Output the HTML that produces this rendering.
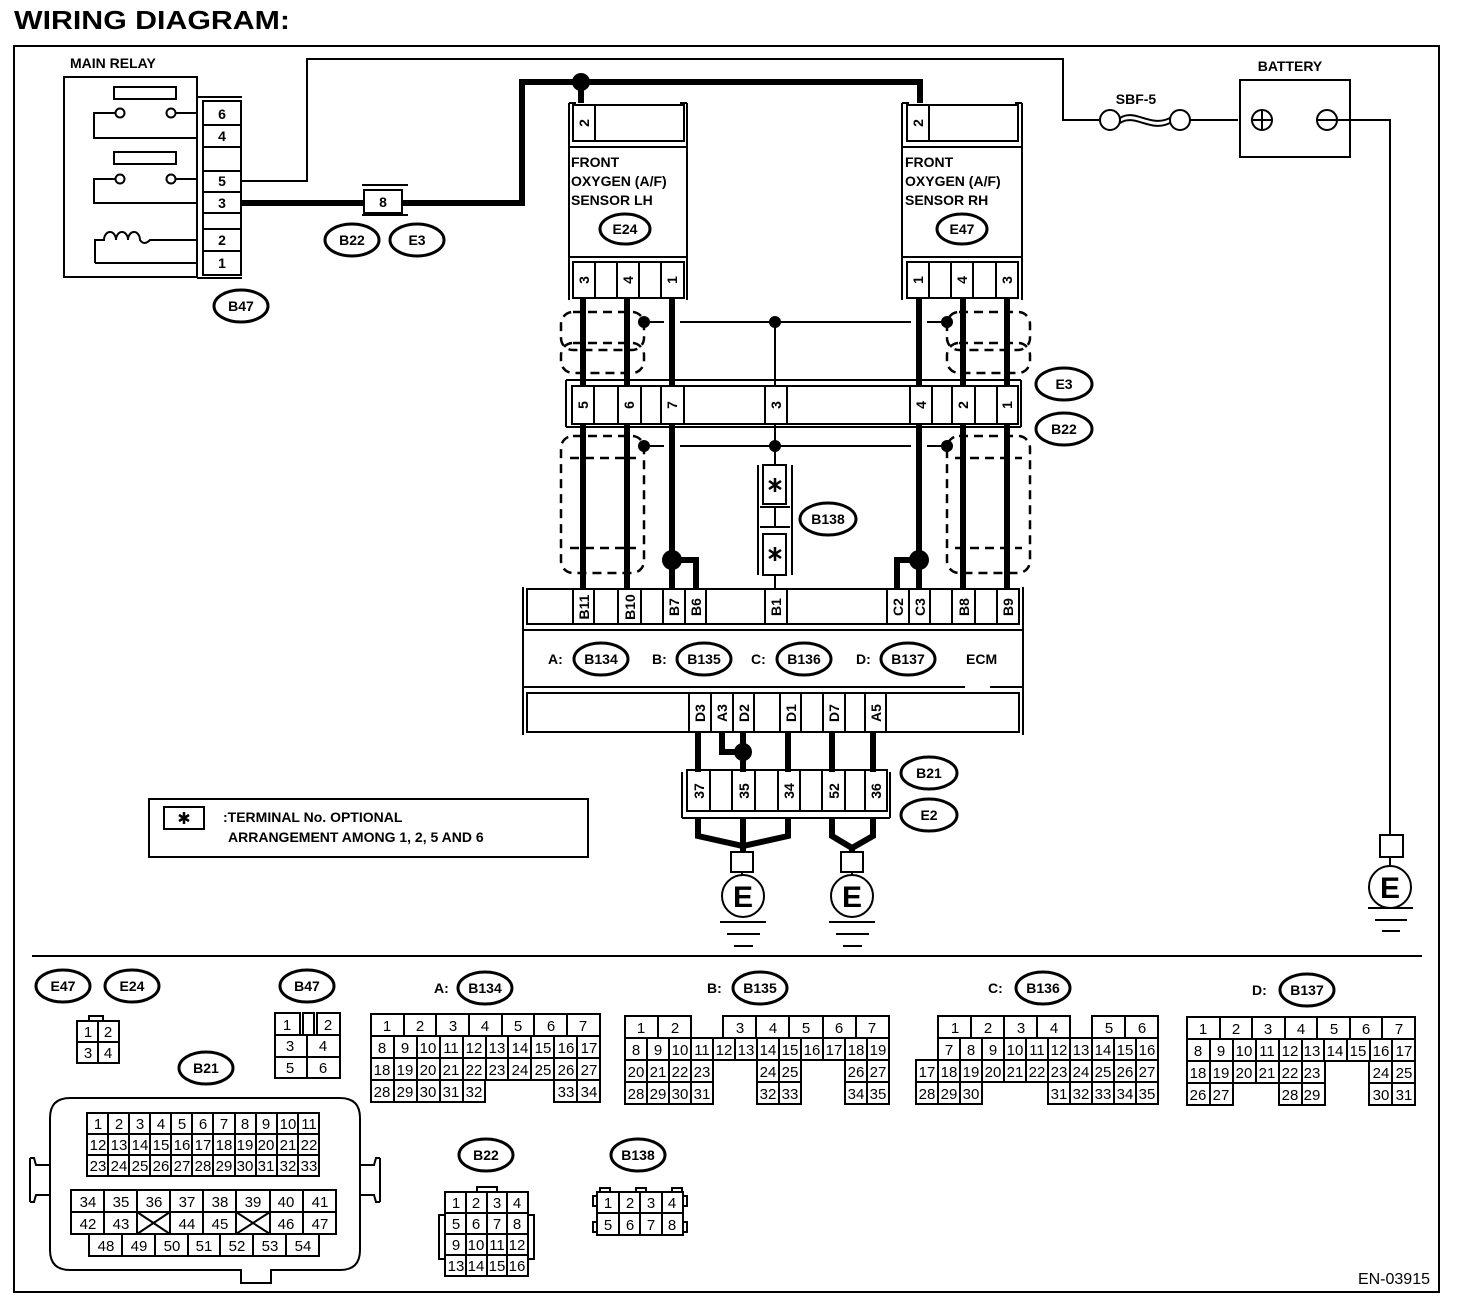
<!DOCTYPE html>
<html><head><meta charset="utf-8"><style>
html,body{margin:0;padding:0;background:#fff}
svg{display:block}
text{font-family:"Liberation Sans",Arial,sans-serif;fill:#000}
.b{font-weight:bold;font-size:14px}
.n{font-size:15px}
.p{font-weight:bold;font-size:14px}
.c{fill:none;stroke:#000;stroke-width:2}
.t{fill:none;stroke:#000;stroke-width:2}
.w{fill:none;stroke:#000;stroke-width:6}
.d{fill:none;stroke:#000;stroke-width:2.5;stroke-dasharray:9 6}
.o{fill:#fff;stroke:#000;stroke-width:3}
.s{fill:none;stroke:#000;stroke-width:2.5}
</style></head><body>
<svg width="1472" height="1308" viewBox="0 0 1472 1308" xmlns="http://www.w3.org/2000/svg">
<text x="14" y="29" font-size="26" font-weight="bold" textLength="276" lengthAdjust="spacingAndGlyphs">WIRING DIAGRAM:</text>
<rect x="14" y="46" width="1425" height="1246" class="t"/>

<!-- MAIN RELAY -->
<text x="70" y="68" class="b" font-size="13">MAIN RELAY</text>
<rect x="64" y="77" width="133" height="200" class="c" stroke-width="3"/>
<line x1="197" y1="97" x2="242" y2="97" class="t" stroke-width="3"/>
<line x1="197" y1="278" x2="242" y2="278" class="t" stroke-width="3"/>
<rect x="203" y="101" width="38" height="174" class="c" stroke-width="3"/>
<g class="t"><line x1="203" y1="125" x2="241" y2="125"/><line x1="203" y1="147" x2="241" y2="147"/><line x1="203" y1="171" x2="241" y2="171"/><line x1="203" y1="192" x2="241" y2="192"/><line x1="203" y1="213" x2="241" y2="213"/><line x1="203" y1="229" x2="241" y2="229"/><line x1="203" y1="251" x2="241" y2="251"/></g>
<g class="b" text-anchor="middle"><text x="222" y="119">6</text><text x="222" y="141">4</text><text x="222" y="186">5</text><text x="222" y="208">3</text><text x="222" y="245">2</text><text x="222" y="268">1</text></g>
<rect x="114" y="87" width="62" height="12" class="c" stroke-width="2.5"/>
<rect x="114" y="152" width="62" height="12" class="c" stroke-width="2.5"/>
<g class="t" stroke-width="2.5">
<path d="M116,113 H94 V138 H197"/><path d="M175,113 H197"/>
<circle cx="120" cy="113" r="4.5" fill="#fff"/><circle cx="171" cy="113" r="4.5" fill="#fff"/>
<path d="M116,179 H94 V203 H197"/><path d="M175,179 H197"/>
<circle cx="120" cy="179" r="4.5" fill="#fff"/><circle cx="171" cy="179" r="4.5" fill="#fff"/>
<path d="M95,263 V240 H104 a6,8 0 1 1 12,0 a6,8 0 1 1 12,0 a6,8 0 1 1 12,0 Q144,246 150,240 H197"/>
<path d="M95,263 H197"/>
</g>
<ellipse cx="241" cy="306" rx="27" ry="16" class="o"/><text x="241" y="311" class="b" text-anchor="middle">B47</text>

<path d="M241,181 H307 V59 H1063 V120 H1100" class="t" stroke-width="2.5"/>
<path d="M241,203 H364 M402,203 H522 V82 H920 V103" class="w"/>
<line x1="362" y1="185" x2="408" y2="185" class="t" stroke-width="3"/>
<line x1="362" y1="215" x2="408" y2="215" class="t" stroke-width="3"/>
<rect x="364" y="190" width="38" height="23" class="c" stroke-width="3"/>
<text x="383" y="207" class="b" text-anchor="middle">8</text>
<ellipse cx="352" cy="240" rx="27" ry="16" class="o"/><text x="352" y="245" class="b" text-anchor="middle">B22</text>
<ellipse cx="417" cy="240" rx="27" ry="16" class="o"/><text x="417" y="245" class="b" text-anchor="middle">E3</text>
<circle cx="581" cy="82" r="9"/><path d="M581,82 V103" class="w"/>

<!-- fuse / battery -->
<text x="1136" y="104" class="b" text-anchor="middle">SBF-5</text>
<circle cx="1110" cy="120" r="10" class="t" stroke-width="2.5" fill="#fff"/>
<circle cx="1180" cy="120" r="10" class="t" stroke-width="2.5" fill="#fff"/>
<path d="M1120,118 C1135,108 1150,128 1170,118" class="t" stroke-width="2.5"/>
<path d="M1120,123 C1135,113 1150,133 1170,123" class="t" stroke-width="1.5"/>
<path d="M1190,120 H1238" class="t" stroke-width="2.5"/>
<text x="1290" y="71" class="b" text-anchor="middle">BATTERY</text>
<rect x="1240" y="80" width="110" height="77" class="c" stroke-width="3"/>
<circle cx="1262" cy="120" r="10" class="t" stroke-width="2.5"/><path d="M1252,120 H1272 M1262,110 V130" class="t" stroke-width="2.5"/>
<circle cx="1327" cy="120" r="10" class="t" stroke-width="2.5"/><path d="M1317,120 H1337" class="t" stroke-width="2.5"/>
<path d="M1337,120 H1390 V835" class="t" stroke-width="2.5"/>
<rect x="1380" y="835" width="23" height="22" class="c" stroke-width="2.5"/>
<path d="M1390,857 V866" class="t" stroke-width="2.5"/>
<circle cx="1390" cy="887" r="21" class="t" stroke-width="2.5" fill="#fff"/>
<text x="1390" y="898" font-size="30" font-weight="bold" text-anchor="middle">E</text>
<g class="t" stroke-width="3"><line x1="1368" y1="908" x2="1413" y2="908"/><line x1="1375" y1="920" x2="1407" y2="920"/><line x1="1382" y1="931" x2="1400" y2="931"/></g>

<!-- SENSOR LH -->
<g class="t" stroke-width="3">
<line x1="569" y1="103" x2="569" y2="300"/><line x1="687" y1="103" x2="687" y2="300"/>
<line x1="569" y1="103" x2="576" y2="103"/><line x1="680" y1="103" x2="687" y2="103"/>
<line x1="569" y1="147" x2="687" y2="147"/><line x1="569" y1="257" x2="687" y2="257"/>
</g>
<rect x="573" y="105" width="111" height="36" class="c" stroke-width="3"/><line x1="595" y1="105" x2="595" y2="141" class="t" stroke-width="2"/>
<text transform="translate(584,123) rotate(-90)" class="p" text-anchor="middle" dominant-baseline="central">2</text>
<text x="571" y="167" class="b">FRONT</text><text x="571" y="186" class="b">OXYGEN (A/F)</text><text x="571" y="205" class="b">SENSOR LH</text>
<ellipse cx="625" cy="229" rx="25" ry="15" class="o"/><text x="625" y="234" class="b" text-anchor="middle">E24</text>
<rect x="573" y="262" width="111" height="36" class="c" stroke-width="3"/>
<g class="t"><line x1="595" y1="262" x2="595" y2="298"/><line x1="617" y1="262" x2="617" y2="298"/><line x1="639" y1="262" x2="639" y2="298"/><line x1="661" y1="262" x2="661" y2="298"/></g>
<g class="p" text-anchor="middle" dominant-baseline="central"><text transform="translate(584,280) rotate(-90)">3</text><text transform="translate(628,280) rotate(-90)">4</text><text transform="translate(672,280) rotate(-90)">1</text></g>

<!-- SENSOR RH -->
<g class="t" stroke-width="3">
<line x1="902" y1="103" x2="902" y2="300"/><line x1="1022" y1="103" x2="1022" y2="300"/>
<line x1="902" y1="103" x2="909" y2="103"/><line x1="1015" y1="103" x2="1022" y2="103"/>
<line x1="902" y1="147" x2="1022" y2="147"/><line x1="902" y1="257" x2="1022" y2="257"/>
</g>
<rect x="907" y="105" width="111" height="36" class="c" stroke-width="3"/><line x1="929" y1="105" x2="929" y2="141" class="t"/>
<text transform="translate(918,123) rotate(-90)" class="p" text-anchor="middle" dominant-baseline="central">2</text>
<text x="905" y="167" class="b">FRONT</text><text x="905" y="186" class="b">OXYGEN (A/F)</text><text x="905" y="205" class="b">SENSOR RH</text>
<ellipse cx="962" cy="229" rx="25" ry="15" class="o"/><text x="962" y="234" class="b" text-anchor="middle">E47</text>
<rect x="907" y="262" width="111" height="36" class="c" stroke-width="3"/>
<g class="t"><line x1="929" y1="262" x2="929" y2="298"/><line x1="951" y1="262" x2="951" y2="298"/><line x1="973" y1="262" x2="973" y2="298"/><line x1="996" y1="262" x2="996" y2="298"/></g>
<g class="p" text-anchor="middle" dominant-baseline="central"><text transform="translate(918,280) rotate(-90)">1</text><text transform="translate(962,280) rotate(-90)">4</text><text transform="translate(1007,280) rotate(-90)">3</text></g>

<g class="w"><line x1="583" y1="298" x2="583" y2="387"/><line x1="627" y1="298" x2="627" y2="387"/><line x1="672" y1="298" x2="672" y2="387"/>
<line x1="919" y1="298" x2="919" y2="387"/><line x1="963" y1="298" x2="963" y2="387"/><line x1="1007" y1="298" x2="1007" y2="387"/></g>
<rect x="561" y="312" width="83" height="38" rx="12" class="d"/>
<rect x="561" y="343" width="83" height="30" rx="12" class="d"/>
<rect x="947" y="312" width="83" height="38" rx="12" class="d"/>
<rect x="947" y="343" width="83" height="30" rx="12" class="d"/>
<g class="t" stroke-width="2"><path d="M644,322 H664 M680,322 H911 M927,322 H947"/><path d="M775,322 V387"/></g>
<circle cx="644" cy="322" r="6"/><circle cx="775" cy="322" r="6"/><circle cx="947" cy="322" r="6"/>

<g class="t" stroke-width="3"><line x1="566" y1="380" x2="1021" y2="380"/><line x1="566" y1="380" x2="566" y2="427"/><line x1="1021" y1="380" x2="1021" y2="427"/><line x1="566" y1="427" x2="1021" y2="427"/></g>
<rect x="572" y="386" width="446" height="38" class="c" stroke-width="3"/>
<g class="t"><line x1="594" y1="386" x2="594" y2="424"/><line x1="618" y1="386" x2="618" y2="424"/><line x1="641" y1="386" x2="641" y2="424"/><line x1="661" y1="386" x2="661" y2="424"/><line x1="684" y1="386" x2="684" y2="424"/><line x1="765" y1="386" x2="765" y2="424"/><line x1="787" y1="386" x2="787" y2="424"/><line x1="910" y1="386" x2="910" y2="424"/><line x1="932" y1="386" x2="932" y2="424"/><line x1="952" y1="386" x2="952" y2="424"/><line x1="975" y1="386" x2="975" y2="424"/><line x1="997" y1="386" x2="997" y2="424"/></g>
<g class="p" text-anchor="middle" dominant-baseline="central"><text transform="translate(583,405) rotate(-90)">5</text><text transform="translate(629,405) rotate(-90)">6</text><text transform="translate(672,405) rotate(-90)">7</text><text transform="translate(776,405) rotate(-90)">3</text><text transform="translate(921,405) rotate(-90)">4</text><text transform="translate(963,405) rotate(-90)">2</text><text transform="translate(1007,405) rotate(-90)">1</text></g>
<ellipse cx="1064" cy="384" rx="28" ry="16" class="o"/><text x="1064" y="389" class="b" text-anchor="middle">E3</text>
<ellipse cx="1064" cy="429" rx="28" ry="16" class="o"/><text x="1064" y="434" class="b" text-anchor="middle">B22</text>

<g class="w"><line x1="583" y1="424" x2="583" y2="590"/><line x1="627" y1="424" x2="627" y2="590"/><line x1="672" y1="424" x2="672" y2="590"/>
<line x1="919" y1="424" x2="919" y2="590"/><line x1="963" y1="424" x2="963" y2="590"/><line x1="1007" y1="424" x2="1007" y2="590"/>
<path d="M672,560 H696 V590"/><path d="M919,560 H897 V590"/></g>
<circle cx="672" cy="560" r="10"/><circle cx="919" cy="560" r="10"/>
<rect x="561" y="436" width="83" height="137" rx="12" class="d"/>
<line x1="570" y1="458" x2="636" y2="458" class="d"/><line x1="570" y1="548" x2="636" y2="548" class="d"/>
<rect x="947" y="436" width="83" height="137" rx="12" class="d"/>
<line x1="955" y1="458" x2="1022" y2="458" class="d"/><line x1="955" y1="548" x2="1022" y2="548" class="d"/>
<g class="t"><path d="M644,446 H664 M680,446 H911 M927,446 H947"/><path d="M775,424 V465 M775,575 V590"/></g>
<circle cx="644" cy="446" r="6"/><circle cx="775" cy="446" r="6"/><circle cx="947" cy="446" r="6"/>
<g class="t" stroke-width="2.5"><line x1="758" y1="465" x2="758" y2="575"/><line x1="792" y1="465" x2="792" y2="575"/><line x1="760" y1="507" x2="790" y2="507"/><line x1="760" y1="527" x2="790" y2="527"/><line x1="775" y1="507" x2="775" y2="527"/></g>
<rect x="763" y="465" width="23" height="39" class="c" stroke-width="3" fill="#fff"/>
<rect x="763" y="534" width="23" height="41" class="c" stroke-width="3" fill="#fff"/>
<path d="M775,478 V492 M769,481 L781,489 M781,481 L769,489" class="s"/>
<path d="M775,547 V561 M769,550 L781,558 M781,550 L769,558" class="s"/>
<ellipse cx="828" cy="519" rx="28" ry="16" class="o"/><text x="828" y="524" class="b" text-anchor="middle">B138</text>

<!-- ECM -->
<g class="t" stroke-width="3"><line x1="523" y1="587" x2="523" y2="735"/><line x1="1023" y1="587" x2="1023" y2="735"/><line x1="523" y1="630" x2="1023" y2="630"/><line x1="523" y1="687" x2="965" y2="687"/><line x1="990" y1="687" x2="1023" y2="687"/></g>
<rect x="527" y="589" width="492" height="35" class="c" stroke-width="3"/>
<g class="t"><line x1="573" y1="589" x2="573" y2="624"/><line x1="594" y1="589" x2="594" y2="624"/><line x1="618" y1="589" x2="618" y2="624"/><line x1="641" y1="589" x2="641" y2="624"/><line x1="663" y1="589" x2="663" y2="624"/><line x1="685" y1="589" x2="685" y2="624"/><line x1="706" y1="589" x2="706" y2="624"/><line x1="765" y1="589" x2="765" y2="624"/><line x1="787" y1="589" x2="787" y2="624"/><line x1="887" y1="589" x2="887" y2="624"/><line x1="909" y1="589" x2="909" y2="624"/><line x1="930" y1="589" x2="930" y2="624"/><line x1="952" y1="589" x2="952" y2="624"/><line x1="975" y1="589" x2="975" y2="624"/><line x1="997" y1="589" x2="997" y2="624"/></g>
<g class="p" text-anchor="middle" dominant-baseline="central"><text transform="translate(584,607) rotate(-90)">B11</text><text transform="translate(630,607) rotate(-90)">B10</text><text transform="translate(674,607) rotate(-90)">B7</text><text transform="translate(696,607) rotate(-90)">B6</text><text transform="translate(776,607) rotate(-90)">B1</text><text transform="translate(898,607) rotate(-90)">C2</text><text transform="translate(920,607) rotate(-90)">C3</text><text transform="translate(964,607) rotate(-90)">B8</text><text transform="translate(1008,607) rotate(-90)">B9</text></g>
<g class="b"><text x="548" y="664">A:</text><text x="652" y="664">B:</text><text x="751" y="664">C:</text><text x="856" y="664">D:</text><text x="966" y="664">ECM</text></g>
<ellipse cx="601" cy="659" rx="27" ry="16" class="o"/><text x="601" y="664" class="b" text-anchor="middle">B134</text>
<ellipse cx="704" cy="659" rx="27" ry="16" class="o"/><text x="704" y="664" class="b" text-anchor="middle">B135</text>
<ellipse cx="804" cy="659" rx="27" ry="16" class="o"/><text x="804" y="664" class="b" text-anchor="middle">B136</text>
<ellipse cx="908" cy="659" rx="27" ry="16" class="o"/><text x="908" y="664" class="b" text-anchor="middle">B137</text>
<rect x="527" y="693" width="492" height="39" class="c" stroke-width="3"/>
<g class="t"><line x1="689" y1="693" x2="689" y2="732"/><line x1="711" y1="693" x2="711" y2="732"/><line x1="733" y1="693" x2="733" y2="732"/><line x1="754" y1="693" x2="754" y2="732"/><line x1="780" y1="693" x2="780" y2="732"/><line x1="801" y1="693" x2="801" y2="732"/><line x1="823" y1="693" x2="823" y2="732"/><line x1="845" y1="693" x2="845" y2="732"/><line x1="865" y1="693" x2="865" y2="732"/><line x1="886" y1="693" x2="886" y2="732"/></g>
<g class="p" text-anchor="middle" dominant-baseline="central"><text transform="translate(700,713) rotate(-90)">D3</text><text transform="translate(722,713) rotate(-90)">A3</text><text transform="translate(744,713) rotate(-90)">D2</text><text transform="translate(791,713) rotate(-90)">D1</text><text transform="translate(834,713) rotate(-90)">D7</text><text transform="translate(876,713) rotate(-90)">A5</text></g>

<g class="w"><line x1="698" y1="732" x2="698" y2="772"/><path d="M722,732 V752 H743"/><line x1="743" y1="732" x2="743" y2="772"/><line x1="788" y1="732" x2="788" y2="772"/><line x1="832" y1="732" x2="832" y2="772"/><line x1="873" y1="732" x2="873" y2="772"/>
<path d="M698,818 V836 L743,846 L788,836 V818"/><line x1="743" y1="818" x2="743" y2="852"/>
<path d="M832,818 V836 L852,848 L873,836 V818"/><line x1="852" y1="846" x2="852" y2="852"/></g>
<circle cx="743" cy="752" r="9"/>
<g class="t" stroke-width="3"><line x1="682" y1="772" x2="682" y2="818"/><line x1="890" y1="772" x2="890" y2="818"/><line x1="682" y1="818" x2="890" y2="818"/></g>
<rect x="687" y="770" width="200" height="41" class="c" stroke-width="3"/>
<g class="t"><line x1="710" y1="770" x2="710" y2="811"/><line x1="732" y1="770" x2="732" y2="811"/><line x1="755" y1="770" x2="755" y2="811"/><line x1="778" y1="770" x2="778" y2="811"/><line x1="800" y1="770" x2="800" y2="811"/><line x1="822" y1="770" x2="822" y2="811"/><line x1="845" y1="770" x2="845" y2="811"/><line x1="865" y1="770" x2="865" y2="811"/></g>
<g class="p" text-anchor="middle" dominant-baseline="central"><text transform="translate(699,791) rotate(-90)">37</text><text transform="translate(744,791) rotate(-90)">35</text><text transform="translate(789,791) rotate(-90)">34</text><text transform="translate(834,791) rotate(-90)">52</text><text transform="translate(876,791) rotate(-90)">36</text></g>
<ellipse cx="929" cy="773" rx="28" ry="16" class="o"/><text x="929" y="778" class="b" text-anchor="middle">B21</text>
<ellipse cx="929" cy="815" rx="28" ry="16" class="o"/><text x="929" y="820" class="b" text-anchor="middle">E2</text>
<g class="t" stroke-width="2.5">
<rect x="731" y="852" width="22" height="20"/><line x1="742" y1="872" x2="742" y2="876"/>
<circle cx="743" cy="896" r="21" fill="#fff"/>
<rect x="841" y="852" width="22" height="20"/><line x1="852" y1="872" x2="852" y2="876"/>
<circle cx="852" cy="896" r="21" fill="#fff"/>
</g>
<text x="743" y="907" font-size="30" font-weight="bold" text-anchor="middle">E</text>
<text x="852" y="907" font-size="30" font-weight="bold" text-anchor="middle">E</text>
<g class="t" stroke-width="3"><line x1="720" y1="922" x2="766" y2="922"/><line x1="727" y1="934" x2="760" y2="934"/><line x1="734" y1="946" x2="753" y2="946"/>
<line x1="829" y1="922" x2="875" y2="922"/><line x1="836" y1="934" x2="869" y2="934"/><line x1="843" y1="946" x2="862" y2="946"/></g>

<!-- legend -->
<rect x="149" y="799" width="439" height="58" class="c" stroke-width="2.5"/>
<rect x="164" y="807" width="40" height="22" class="c" stroke-width="2.5"/>
<path d="M184,812 V824 M179,815 L189,821 M189,815 L179,821" class="s"/>
<text x="223" y="822" class="b">:TERMINAL No. OPTIONAL</text>
<text x="228" y="842" class="b">ARRANGEMENT AMONG 1, 2, 5 AND 6</text>

<line x1="32" y1="956" x2="1422" y2="956" class="t" stroke-width="3"/>

<!-- bottom connectors -->
<ellipse cx="63" cy="986" rx="27" ry="16" class="o"/><text x="63" y="991" class="b" text-anchor="middle">E47</text>
<ellipse cx="132" cy="986" rx="27" ry="16" class="o"/><text x="132" y="991" class="b" text-anchor="middle">E24</text>
<rect x="89" y="1016" width="14" height="5" class="c"/>
<rect x="77" y="1021" width="42" height="42" class="c"/><line x1="98" y1="1021" x2="98" y2="1063" class="t"/><line x1="77" y1="1042" x2="119" y2="1042" class="t"/>
<g class="n" text-anchor="middle"><text x="88" y="1037">1</text><text x="108" y="1037">2</text><text x="88" y="1058">3</text><text x="108" y="1058">4</text></g>

<ellipse cx="307" cy="986" rx="27" ry="16" class="o"/><text x="307" y="991" class="b" text-anchor="middle">B47</text>
<g class="c"><rect x="275" y="1013" width="25" height="22"/><rect x="303" y="1013" width="11" height="22"/><rect x="317" y="1013" width="23" height="22"/><rect x="275" y="1035" width="65" height="43"/></g>
<g class="t"><line x1="307" y1="1035" x2="307" y2="1078"/><line x1="275" y1="1057" x2="340" y2="1057"/></g>
<g class="n" text-anchor="middle"><text x="287" y="1030">1</text><text x="328" y="1030">2</text><text x="290" y="1051">3</text><text x="323" y="1051">4</text><text x="290" y="1073">5</text><text x="323" y="1073">6</text></g>

<!-- B21 -->
<ellipse cx="206" cy="1068" rx="27" ry="16" class="o"/><text x="206" y="1073" class="b" text-anchor="middle">B21</text>
<path d="M70,1098 H340 Q360,1098 360,1118 V1250 Q360,1270 340,1270 H271 V1283 H241 V1270 H70 Q50,1270 50,1250 V1118 Q50,1098 70,1098 Z" class="c"/>
<path d="M50,1165 H36 L34,1158 H30 M50,1195 H36 L34,1202 H30 M30,1158 V1202" class="t"/>
<path d="M360,1165 H374 L376,1158 H380 M360,1195 H374 L376,1202 H380 M380,1158 V1202" class="t"/>
<rect x="87" y="1113" width="232" height="63" class="c" stroke-width="2.5"/>
<g class="t" stroke-width="1.5"><line x1="87" y1="1134" x2="319" y2="1134"/><line x1="87" y1="1155" x2="319" y2="1155"/>
<line x1="108" y1="1113" x2="108" y2="1176"/><line x1="129" y1="1113" x2="129" y2="1176"/><line x1="150" y1="1113" x2="150" y2="1176"/><line x1="171" y1="1113" x2="171" y2="1176"/><line x1="192" y1="1113" x2="192" y2="1176"/><line x1="213" y1="1113" x2="213" y2="1176"/><line x1="235" y1="1113" x2="235" y2="1176"/><line x1="256" y1="1113" x2="256" y2="1176"/><line x1="277" y1="1113" x2="277" y2="1176"/><line x1="298" y1="1113" x2="298" y2="1176"/></g>
<g class="n" text-anchor="middle" font-size="14">
<text x="98" y="1129">1</text><text x="119" y="1129">2</text><text x="140" y="1129">3</text><text x="161" y="1129">4</text><text x="182" y="1129">5</text><text x="203" y="1129">6</text><text x="224" y="1129">7</text><text x="245" y="1129">8</text><text x="266" y="1129">9</text><text x="288" y="1129">10</text><text x="309" y="1129">11</text>
<text x="98" y="1150">12</text><text x="119" y="1150">13</text><text x="140" y="1150">14</text><text x="161" y="1150">15</text><text x="182" y="1150">16</text><text x="203" y="1150">17</text><text x="224" y="1150">18</text><text x="245" y="1150">19</text><text x="266" y="1150">20</text><text x="288" y="1150">21</text><text x="309" y="1150">22</text>
<text x="98" y="1171">23</text><text x="119" y="1171">24</text><text x="140" y="1171">25</text><text x="161" y="1171">26</text><text x="182" y="1171">27</text><text x="203" y="1171">28</text><text x="224" y="1171">29</text><text x="245" y="1171">30</text><text x="266" y="1171">31</text><text x="288" y="1171">32</text><text x="309" y="1171">33</text>
</g>
<rect x="71" y="1190" width="265" height="44" class="c"/>
<rect x="89" y="1234" width="230" height="22" class="c"/>
<g class="t" stroke-width="1.5"><line x1="71" y1="1212" x2="336" y2="1212"/>
<line x1="104" y1="1190" x2="104" y2="1234"/><line x1="137" y1="1190" x2="137" y2="1234"/><line x1="170" y1="1190" x2="170" y2="1234"/><line x1="203" y1="1190" x2="203" y2="1234"/><line x1="236" y1="1190" x2="236" y2="1234"/><line x1="270" y1="1190" x2="270" y2="1234"/><line x1="303" y1="1190" x2="303" y2="1234"/>
<line x1="122" y1="1234" x2="122" y2="1256"/><line x1="155" y1="1234" x2="155" y2="1256"/><line x1="188" y1="1234" x2="188" y2="1256"/><line x1="220" y1="1234" x2="220" y2="1256"/><line x1="253" y1="1234" x2="253" y2="1256"/><line x1="286" y1="1234" x2="286" y2="1256"/>
<path d="M137,1212 L170,1234 M170,1212 L137,1234 M236,1212 L270,1234 M270,1212 L236,1234"/></g>
<g class="n" text-anchor="middle">
<text x="88" y="1207">34</text><text x="121" y="1207">35</text><text x="154" y="1207">36</text><text x="187" y="1207">37</text><text x="220" y="1207">38</text><text x="253" y="1207">39</text><text x="286" y="1207">40</text><text x="320" y="1207">41</text>
<text x="88" y="1229">42</text><text x="121" y="1229">43</text><text x="187" y="1229">44</text><text x="220" y="1229">45</text><text x="286" y="1229">46</text><text x="320" y="1229">47</text>
<text x="106" y="1251">48</text><text x="139" y="1251">49</text><text x="172" y="1251">50</text><text x="204" y="1251">51</text><text x="237" y="1251">52</text><text x="270" y="1251">53</text><text x="303" y="1251">54</text>
</g>

<!-- B134 -->
<text x="434" y="993" class="b">A:</text>
<ellipse cx="485" cy="988" rx="27" ry="16" class="o"/><text x="485" y="993" class="b" text-anchor="middle">B134</text>
<g class="c" stroke-width="1.8">
<rect x="371" y="1014" width="229" height="22"/>
<rect x="371" y="1036" width="229" height="44"/>
<rect x="371" y="1080" width="114" height="22"/><rect x="554" y="1080" width="46" height="22"/>
</g>
<g class="t" stroke-width="1.5"><line x1="371" y1="1058" x2="600" y2="1058"/>
<line x1="404" y1="1014" x2="404" y2="1036"/><line x1="436" y1="1014" x2="436" y2="1036"/><line x1="469" y1="1014" x2="469" y2="1036"/><line x1="502" y1="1014" x2="502" y2="1036"/><line x1="534" y1="1014" x2="534" y2="1036"/><line x1="567" y1="1014" x2="567" y2="1036"/>
<line x1="394" y1="1036" x2="394" y2="1102"/><line x1="417" y1="1036" x2="417" y2="1102"/><line x1="440" y1="1036" x2="440" y2="1102"/><line x1="463" y1="1036" x2="463" y2="1102"/><line x1="486" y1="1036" x2="486" y2="1080"/><line x1="508" y1="1036" x2="508" y2="1080"/><line x1="531" y1="1036" x2="531" y2="1080"/><line x1="554" y1="1036" x2="554" y2="1080"/><line x1="577" y1="1036" x2="577" y2="1102"/></g>
<g class="n" text-anchor="middle">
<text x="387" y="1031">1</text><text x="420" y="1031">2</text><text x="453" y="1031">3</text><text x="485" y="1031">4</text><text x="518" y="1031">5</text><text x="551" y="1031">6</text><text x="583" y="1031">7</text>
<text x="382" y="1053">8</text><text x="405" y="1053">9</text><text x="428" y="1053">10</text><text x="451" y="1053">11</text><text x="474" y="1053">12</text><text x="497" y="1053">13</text><text x="520" y="1053">14</text><text x="543" y="1053">15</text><text x="566" y="1053">16</text><text x="589" y="1053">17</text>
<text x="382" y="1075">18</text><text x="405" y="1075">19</text><text x="428" y="1075">20</text><text x="451" y="1075">21</text><text x="474" y="1075">22</text><text x="497" y="1075">23</text><text x="520" y="1075">24</text><text x="543" y="1075">25</text><text x="566" y="1075">26</text><text x="589" y="1075">27</text>
<text x="382" y="1097">28</text><text x="405" y="1097">29</text><text x="428" y="1097">30</text><text x="451" y="1097">31</text><text x="474" y="1097">32</text><text x="566" y="1097">33</text><text x="589" y="1097">34</text>
</g>

<!-- B135 -->
<text x="707" y="993" class="b">B:</text>
<ellipse cx="760" cy="988" rx="27" ry="16" class="o"/><text x="760" y="993" class="b" text-anchor="middle">B135</text>
<g class="c" stroke-width="1.8">
<rect x="625" y="1016" width="66" height="22"/><rect x="723" y="1016" width="166" height="22"/>
<rect x="625" y="1038" width="264" height="22"/>
<rect x="625" y="1060" width="88" height="44"/><rect x="757" y="1060" width="44" height="44"/><rect x="845" y="1060" width="44" height="44"/>
</g>
<g class="t" stroke-width="1.5">
<line x1="658" y1="1016" x2="658" y2="1038"/><line x1="756" y1="1016" x2="756" y2="1038"/><line x1="789" y1="1016" x2="789" y2="1038"/><line x1="823" y1="1016" x2="823" y2="1038"/><line x1="856" y1="1016" x2="856" y2="1038"/>
<line x1="647" y1="1038" x2="647" y2="1104"/><line x1="669" y1="1038" x2="669" y2="1104"/><line x1="691" y1="1038" x2="691" y2="1104"/><line x1="713" y1="1038" x2="713" y2="1060"/><line x1="735" y1="1038" x2="735" y2="1060"/><line x1="757" y1="1038" x2="757" y2="1060"/><line x1="779" y1="1038" x2="779" y2="1104"/><line x1="801" y1="1038" x2="801" y2="1060"/><line x1="823" y1="1038" x2="823" y2="1060"/><line x1="845" y1="1038" x2="845" y2="1060"/><line x1="867" y1="1038" x2="867" y2="1104"/>
<line x1="625" y1="1082" x2="713" y2="1082"/><line x1="757" y1="1082" x2="801" y2="1082"/><line x1="845" y1="1082" x2="889" y2="1082"/></g>
<g class="n" text-anchor="middle">
<text x="641" y="1033">1</text><text x="675" y="1033">2</text><text x="740" y="1033">3</text><text x="773" y="1033">4</text><text x="806" y="1033">5</text><text x="839" y="1033">6</text><text x="872" y="1033">7</text>
<text x="636" y="1055">8</text><text x="658" y="1055">9</text><text x="680" y="1055">10</text><text x="702" y="1055">11</text><text x="724" y="1055">12</text><text x="746" y="1055">13</text><text x="768" y="1055">14</text><text x="790" y="1055">15</text><text x="812" y="1055">16</text><text x="834" y="1055">17</text><text x="856" y="1055">18</text><text x="878" y="1055">19</text>
<text x="636" y="1077">20</text><text x="658" y="1077">21</text><text x="680" y="1077">22</text><text x="702" y="1077">23</text><text x="768" y="1077">24</text><text x="790" y="1077">25</text><text x="856" y="1077">26</text><text x="878" y="1077">27</text>
<text x="636" y="1099">28</text><text x="658" y="1099">29</text><text x="680" y="1099">30</text><text x="702" y="1099">31</text><text x="768" y="1099">32</text><text x="790" y="1099">33</text><text x="856" y="1099">34</text><text x="878" y="1099">35</text>
</g>

<!-- B136 -->
<text x="988" y="993" class="b">C:</text>
<ellipse cx="1043" cy="988" rx="27" ry="16" class="o"/><text x="1043" y="993" class="b" text-anchor="middle">B136</text>
<g class="c" stroke-width="1.8">
<rect x="938" y="1016" width="132" height="22"/><rect x="1092" y="1016" width="66" height="22"/>
<rect x="938" y="1038" width="220" height="22"/>
<rect x="916" y="1060" width="242" height="22"/>
<rect x="916" y="1082" width="66" height="22"/><rect x="1048" y="1082" width="110" height="22"/>
</g>
<g class="t" stroke-width="1.5">
<line x1="971" y1="1016" x2="971" y2="1038"/><line x1="1004" y1="1016" x2="1004" y2="1038"/><line x1="1037" y1="1016" x2="1037" y2="1038"/><line x1="1125" y1="1016" x2="1125" y2="1038"/>
<line x1="938" y1="1060" x2="938" y2="1104"/><line x1="960" y1="1038" x2="960" y2="1104"/><line x1="982" y1="1038" x2="982" y2="1082"/><line x1="1004" y1="1038" x2="1004" y2="1082"/><line x1="1026" y1="1038" x2="1026" y2="1082"/><line x1="1048" y1="1038" x2="1048" y2="1082"/><line x1="1070" y1="1038" x2="1070" y2="1104"/><line x1="1092" y1="1038" x2="1092" y2="1104"/><line x1="1114" y1="1038" x2="1114" y2="1104"/><line x1="1136" y1="1038" x2="1136" y2="1104"/></g>
<g class="n" text-anchor="middle">
<text x="955" y="1033">1</text><text x="988" y="1033">2</text><text x="1021" y="1033">3</text><text x="1054" y="1033">4</text><text x="1109" y="1033">5</text><text x="1142" y="1033">6</text>
<text x="949" y="1055">7</text><text x="971" y="1055">8</text><text x="993" y="1055">9</text><text x="1015" y="1055">10</text><text x="1037" y="1055">11</text><text x="1059" y="1055">12</text><text x="1081" y="1055">13</text><text x="1103" y="1055">14</text><text x="1125" y="1055">15</text><text x="1147" y="1055">16</text>
<text x="927" y="1077">17</text><text x="949" y="1077">18</text><text x="971" y="1077">19</text><text x="993" y="1077">20</text><text x="1015" y="1077">21</text><text x="1037" y="1077">22</text><text x="1059" y="1077">23</text><text x="1081" y="1077">24</text><text x="1103" y="1077">25</text><text x="1125" y="1077">26</text><text x="1147" y="1077">27</text>
<text x="927" y="1099">28</text><text x="949" y="1099">29</text><text x="971" y="1099">30</text><text x="1059" y="1099">31</text><text x="1081" y="1099">32</text><text x="1103" y="1099">33</text><text x="1125" y="1099">34</text><text x="1147" y="1099">35</text>
</g>

<!-- B137 -->
<text x="1252" y="995" class="b">D:</text>
<ellipse cx="1307" cy="990" rx="27" ry="16" class="o"/><text x="1307" y="995" class="b" text-anchor="middle">B137</text>
<g class="c" stroke-width="1.8">
<rect x="1187" y="1017" width="228" height="22"/>
<rect x="1187" y="1039" width="228" height="22"/>
<rect x="1187" y="1061" width="46" height="44"/><rect x="1233" y="1061" width="46" height="22"/><rect x="1279" y="1061" width="46" height="44"/><rect x="1369" y="1061" width="46" height="44"/>
</g>
<g class="t" stroke-width="1.5">
<line x1="1220" y1="1017" x2="1220" y2="1039"/><line x1="1252" y1="1017" x2="1252" y2="1039"/><line x1="1285" y1="1017" x2="1285" y2="1039"/><line x1="1317" y1="1017" x2="1317" y2="1039"/><line x1="1350" y1="1017" x2="1350" y2="1039"/><line x1="1382" y1="1017" x2="1382" y2="1039"/>
<line x1="1210" y1="1039" x2="1210" y2="1105"/><line x1="1233" y1="1039" x2="1233" y2="1061"/><line x1="1256" y1="1039" x2="1256" y2="1083"/><line x1="1279" y1="1039" x2="1279" y2="1061"/><line x1="1302" y1="1039" x2="1302" y2="1105"/><line x1="1324" y1="1039" x2="1324" y2="1061"/><line x1="1347" y1="1039" x2="1347" y2="1061"/><line x1="1370" y1="1039" x2="1370" y2="1061"/><line x1="1392" y1="1039" x2="1392" y2="1105"/>
<line x1="1187" y1="1083" x2="1233" y2="1083"/><line x1="1279" y1="1083" x2="1325" y2="1083"/><line x1="1369" y1="1083" x2="1415" y2="1083"/></g>
<g class="n" text-anchor="middle">
<text x="1203" y="1034">1</text><text x="1236" y="1034">2</text><text x="1268" y="1034">3</text><text x="1301" y="1034">4</text><text x="1334" y="1034">5</text><text x="1366" y="1034">6</text><text x="1399" y="1034">7</text>
<text x="1198" y="1056">8</text><text x="1221" y="1056">9</text><text x="1244" y="1056">10</text><text x="1267" y="1056">11</text><text x="1290" y="1056">12</text><text x="1312" y="1056">13</text><text x="1335" y="1056">14</text><text x="1358" y="1056">15</text><text x="1381" y="1056">16</text><text x="1404" y="1056">17</text>
<text x="1198" y="1078">18</text><text x="1221" y="1078">19</text><text x="1244" y="1078">20</text><text x="1267" y="1078">21</text><text x="1290" y="1078">22</text><text x="1312" y="1078">23</text><text x="1381" y="1078">24</text><text x="1404" y="1078">25</text>
<text x="1198" y="1100">26</text><text x="1221" y="1100">27</text><text x="1290" y="1100">28</text><text x="1312" y="1100">29</text><text x="1381" y="1100">30</text><text x="1404" y="1100">31</text>
</g>

<!-- B22 -->
<ellipse cx="486" cy="1155" rx="27" ry="16" class="o"/><text x="486" y="1160" class="b" text-anchor="middle">B22</text>
<rect x="477" y="1187" width="20" height="5" class="c"/>
<rect x="439" y="1215" width="6" height="44" class="c"/><rect x="528" y="1215" width="6" height="44" class="c"/>
<rect x="445" y="1192" width="83" height="84" class="c" stroke-width="2.5"/>
<g class="t" stroke-width="1.5"><line x1="466" y1="1192" x2="466" y2="1276"/><line x1="487" y1="1192" x2="487" y2="1276"/><line x1="507" y1="1192" x2="507" y2="1276"/><line x1="445" y1="1213" x2="528" y2="1213"/><line x1="445" y1="1234" x2="528" y2="1234"/><line x1="445" y1="1255" x2="528" y2="1255"/></g>
<g class="n" text-anchor="middle"><text x="456" y="1208">1</text><text x="476" y="1208">2</text><text x="497" y="1208">3</text><text x="517" y="1208">4</text><text x="456" y="1229">5</text><text x="476" y="1229">6</text><text x="497" y="1229">7</text><text x="517" y="1229">8</text><text x="456" y="1250">9</text><text x="476" y="1250">10</text><text x="497" y="1250">11</text><text x="517" y="1250">12</text><text x="456" y="1271">13</text><text x="476" y="1271">14</text><text x="497" y="1271">15</text><text x="517" y="1271">16</text></g>

<!-- B138 -->
<ellipse cx="638" cy="1155" rx="27" ry="16" class="o"/><text x="638" y="1160" class="b" text-anchor="middle">B138</text>
<g class="c"><rect x="600" y="1188" width="10" height="4"/><rect x="636" y="1188" width="10" height="4"/><rect x="672" y="1188" width="10" height="4"/><rect x="593" y="1196" width="4" height="10"/><rect x="593" y="1222" width="4" height="10"/><rect x="683" y="1196" width="4" height="10"/><rect x="683" y="1222" width="4" height="10"/></g>
<rect x="597" y="1192" width="86" height="43" class="c" stroke-width="2.5"/>
<g class="t" stroke-width="1.5"><line x1="619" y1="1192" x2="619" y2="1235"/><line x1="640" y1="1192" x2="640" y2="1235"/><line x1="662" y1="1192" x2="662" y2="1235"/><line x1="597" y1="1213" x2="683" y2="1213"/></g>
<g class="n" text-anchor="middle"><text x="608" y="1208">1</text><text x="630" y="1208">2</text><text x="651" y="1208">3</text><text x="672" y="1208">4</text><text x="608" y="1230">5</text><text x="630" y="1230">6</text><text x="651" y="1230">7</text><text x="672" y="1230">8</text></g>

<text x="1430" y="1284" font-size="16" text-anchor="end">EN-03915</text>
</svg>
</body></html>
